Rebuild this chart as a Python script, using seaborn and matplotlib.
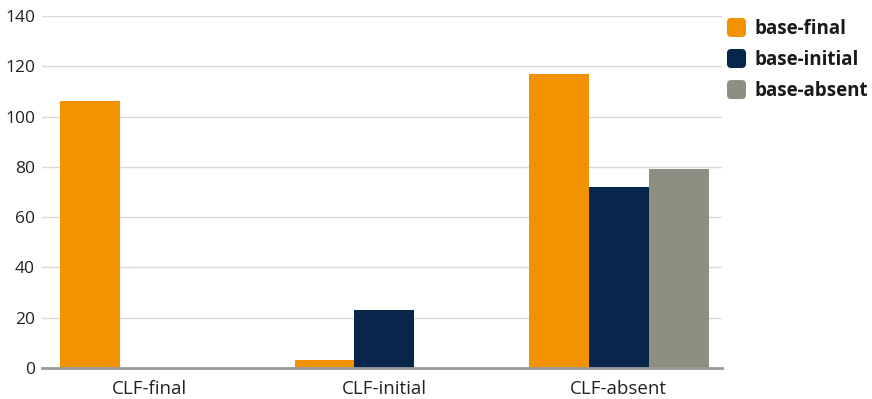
import matplotlib
matplotlib.use("Agg")
import matplotlib.pyplot as plt
from matplotlib.patches import FancyBboxPatch
from matplotlib.legend_handler import HandlerBase
import seaborn as sns
import pandas as pd

categories = ["CLF-final", "CLF-initial", "CLF-absent"]
series = ["base-final", "base-initial", "base-absent"]
base_final = [106, 3, 117]
base_initial = [0, 23, 72]
base_absent = [0, 0, 79]
colors = ["#F39200", "#08264C", "#8E8F80"]
y_ticks = [0, 20, 40, 60, 80, 100, 120, 140]

rows = []
for name, vals in zip(series, [base_final, base_initial, base_absent]):
    for cat, v in zip(categories, vals):
        rows.append({"category": cat, "series": name, "value": v})
df = pd.DataFrame(rows)

sns.set_theme(style="white")
plt.rcParams["font.family"] = ["Open Sans", "DejaVu Sans"]

DPI = 100
fig = plt.figure(figsize=(8.72, 3.99), dpi=DPI)
ax = fig.add_axes([42 / 872, 31 / 399, 680 / 872, 352 / 399])

sns.barplot(data=df, x="category", y="value", hue="series", order=categories,
            hue_order=series, palette=colors, width=0.766, saturation=1,
            linewidth=0, ax=ax, legend=False)

ax.set_xlim(-0.46, 2.44)
ax.set_ylim(0, 140)
ax.set_yticks(y_ticks)
ax.set_xlabel("")
ax.set_ylabel("")
ax.yaxis.grid(True, color="#D9D9D9", linewidth=1)
ax.set_axisbelow(True)
for s in ["top", "right", "left"]:
    ax.spines[s].set_visible(False)
ax.spines["bottom"].set_color("#9A9A9A")
ax.spines["bottom"].set_linewidth(2)
ax.tick_params(axis="both", length=0, colors="#222222")
ax.tick_params(axis="x", labelsize=13.5, pad=9)
ax.tick_params(axis="y", labelsize=12.5, pad=5)


class RoundSquareHandler(HandlerBase):
    def create_artists(self, legend, orig_handle, xdescent, ydescent,
                       width, height, fontsize, trans):
        size = 19 * 72 / DPI
        p = FancyBboxPatch((-xdescent, -ydescent + height / 2 - size / 2),
                           size, size,
                           boxstyle="round,pad=0,rounding_size=3",
                           facecolor=orig_handle.get_facecolor(),
                           edgecolor="none", transform=trans)
        return [p]


handles = [FancyBboxPatch((0, 0), 1, 1, facecolor=c) for c in colors]
fs = 13.5
leg = fig.legend(handles, series, loc="upper left",
                 bbox_to_anchor=(727 / 872, 1 - 19 / 399),
                 frameon=False, handler_map={FancyBboxPatch: RoundSquareHandler()},
                 handlelength=19 * 72 / DPI / fs, handleheight=0.7,
                 handletextpad=8 * 72 / DPI / fs,
                 labelspacing=0.59, borderpad=0, borderaxespad=0,
                 prop={"size": fs, "weight": "bold"})
for t in leg.get_texts():
    t.set_color("#1A1A1A")

fig.savefig("out.png", dpi=DPI)
